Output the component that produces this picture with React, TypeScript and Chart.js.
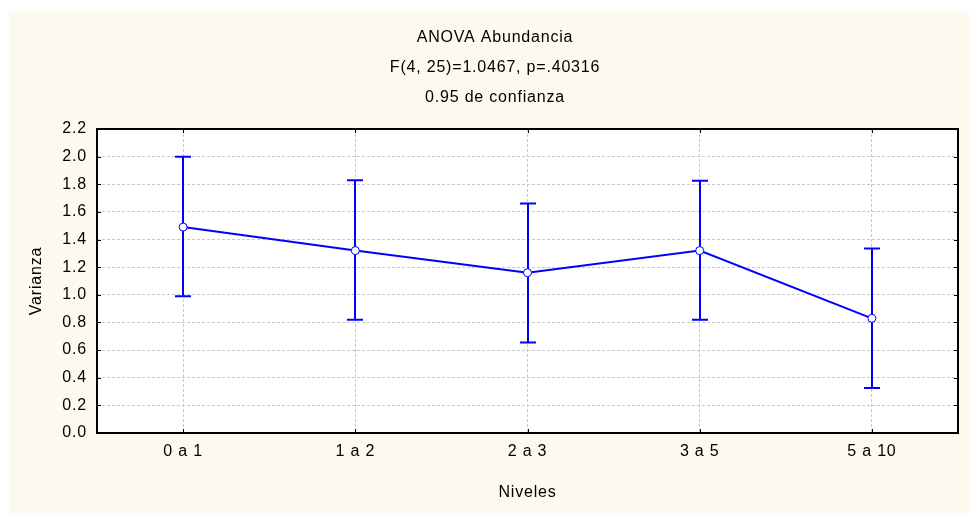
import React, { useEffect, useRef } from "react";
import { Chart, registerables } from "chart.js";

Chart.register(...registerables);

const categories = ["0 a 1", "1 a 2", "2 a 3", "3 a 5", "5 a 10"];
const means = [1.49, 1.32, 1.16, 1.32, 0.83];
const lowerCI = [0.99, 0.82, 0.655, 0.82, 0.325];
const upperCI = [2.0, 1.83, 1.66, 1.825, 1.335];
const yTicks = [0, 0.2, 0.4, 0.6, 0.8, 1.0, 1.2, 1.4, 1.6, 1.8, 2.0, 2.2];
const titleLines = ["ANOVA Abundancia", "F(4, 25)=1.0467, p=.40316", "0.95 de confianza"];
const yTitle = "Varianza";
const xTitle = "Niveles";

const FONT = "'Liberation Sans', Arial, sans-serif";
const BLUE = "#0000ff";

const spacingPlugin = {
  id: "spacing",
  beforeUpdate(chart: any) {
    try { chart.ctx.letterSpacing = "0.8px"; } catch (e) {}
  },
  beforeDraw(chart: any) {
    try { chart.ctx.letterSpacing = "0.8px"; } catch (e) {}
  },
};

const backgroundPlugin = {
  id: "bg",
  beforeDraw(chart: any) {
    const { ctx, width, height, chartArea } = chart;
    ctx.save();
    ctx.fillStyle = "#fef9ef";
    ctx.fillRect(0, 0, width, height);
    ctx.fillStyle = "#ffffff";
    ctx.fillRect(chartArea.left, chartArea.top, chartArea.right - chartArea.left, chartArea.bottom - chartArea.top);
    ctx.restore();
  },
};

const errorBarPlugin = {
  id: "errbars",
  beforeDatasetsDraw(chart: any) {
    const { ctx, scales } = chart;
    const xs = scales.x;
    const ys = scales.y;
    ctx.save();
    ctx.strokeStyle = BLUE;
    ctx.lineWidth = 2;
    ctx.lineCap = "butt";
    for (let i = 0; i < categories.length; i++) {
      const x = Math.round(xs.getPixelForValue(i));
      const yl = ys.getPixelForValue(lowerCI[i]);
      const yu = ys.getPixelForValue(upperCI[i]);
      ctx.beginPath();
      ctx.moveTo(x, yl);
      ctx.lineTo(x, yu);
      ctx.moveTo(x - 8, yl);
      ctx.lineTo(x + 8, yl);
      ctx.moveTo(x - 8, yu);
      ctx.lineTo(x + 8, yu);
      ctx.stroke();
    }
    ctx.restore();
  },
};

const framePlugin = {
  id: "frame",
  afterDraw(chart: any) {
    const { ctx, chartArea, scales } = chart;
    const { left, right, top, bottom } = chartArea;
    ctx.save();
    ctx.strokeStyle = "#000000";
    ctx.lineWidth = 1;
    ctx.beginPath();
    for (let i = 0; i < categories.length; i++) {
      const x = Math.round(scales.x.getPixelForValue(i)) + 0.5;
      ctx.moveTo(x, bottom);
      ctx.lineTo(x, bottom - 4);
      ctx.moveTo(x, top);
      ctx.lineTo(x, top + 4);
    }
    for (const v of yTicks) {
      const y = Math.round(scales.y.getPixelForValue(v)) + 0.5;
      ctx.moveTo(left, y);
      ctx.lineTo(left + 4, y);
      ctx.moveTo(right, y);
      ctx.lineTo(right - 4, y);
    }
    ctx.stroke();
    ctx.lineWidth = 2;
    ctx.strokeRect(left, top, right - left, bottom - top);
    ctx.restore();
  },
};

export default function App() {
  const ref = useRef<HTMLCanvasElement | null>(null);

  useEffect(() => {
    if (!ref.current) return;
    const chart = new Chart(ref.current, {
      type: "line",
      data: {
        labels: categories,
        datasets: [
          {
            data: means,
            yAxisID: "y",
            borderColor: BLUE,
            borderWidth: 2,
            backgroundColor: "#ffffff",
            pointBackgroundColor: "#ffffff",
            pointBorderColor: BLUE,
            pointBorderWidth: 1,
            pointRadius: 4,
            tension: 0,
            fill: false,
          },
        ],
      },
      options: {
        responsive: false,
        animation: false,
        layout: { padding: { left: 12, right: 0, top: 0, bottom: 0 } },
        plugins: {
          legend: { display: false },
          tooltip: { enabled: false },
          title: {
            display: true,
            text: titleLines,
            color: "#000000",
            font: { family: FONT, size: 16, weight: "normal", lineHeight: 1.875 },
            padding: { top: 12, bottom: 16 },
          },
        },
        scales: {
          x: {
            type: "category",
            offset: true,
            grid: {
              display: true,
              offset: false,
              color: "#c8c8c8",
              lineWidth: 1,
              drawTicks: false,
            },
            border: { display: false, dash: [3, 2] },
            ticks: {
              color: "#000000",
              padding: 9,
              font: { family: FONT, size: 16 },
              maxRotation: 0,
              autoSkip: false,
            },
            title: {
              display: true,
              text: xTitle,
              color: "#000000",
              font: { family: FONT, size: 16 },
              padding: { top: 0, bottom: 11 },
            },
            afterFit(scale: any) {
              scale.height = 80;
            },
          },
          y: {
            type: "linear",
            position: "left",
            min: 0,
            max: 2.2,
            grid: {
              display: true,
              color: "#c8c8c8",
              lineWidth: 1,
              drawTicks: false,
            },
            border: { display: false, dash: [3, 2] },
            ticks: {
              color: "#000000",
              padding: 10,
              font: { family: FONT, size: 16 },
              callback: (v: any) => Number(v).toFixed(1),
            },
            afterBuildTicks(scale: any) {
              scale.ticks = yTicks.map((v) => ({ value: v }));
            },
            title: {
              display: true,
              text: yTitle,
              color: "#000000",
              font: { family: FONT, size: 16 },
              padding: { top: 6, bottom: 0 },
            },
            afterFit(scale: any) {
              scale.width = 76;
            },
          },
          yRight: {
            type: "linear",
            position: "right",
            min: 0,
            max: 2.2,
            grid: { display: false, drawTicks: false },
            border: { display: false },
            ticks: { display: false },
            afterFit(scale: any) {
              scale.width = 11;
            },
          },
        },
      },
      plugins: [spacingPlugin, backgroundPlugin, errorBarPlugin, framePlugin],
    } as any);
    return () => chart.destroy();
  }, []);

  return (
    <div style={{ position: "fixed", left: 9, top: 11 }}>
      <canvas ref={ref} width={960} height={502} style={{ display: "block", width: 960, height: 502 }} />
    </div>
  );
}
